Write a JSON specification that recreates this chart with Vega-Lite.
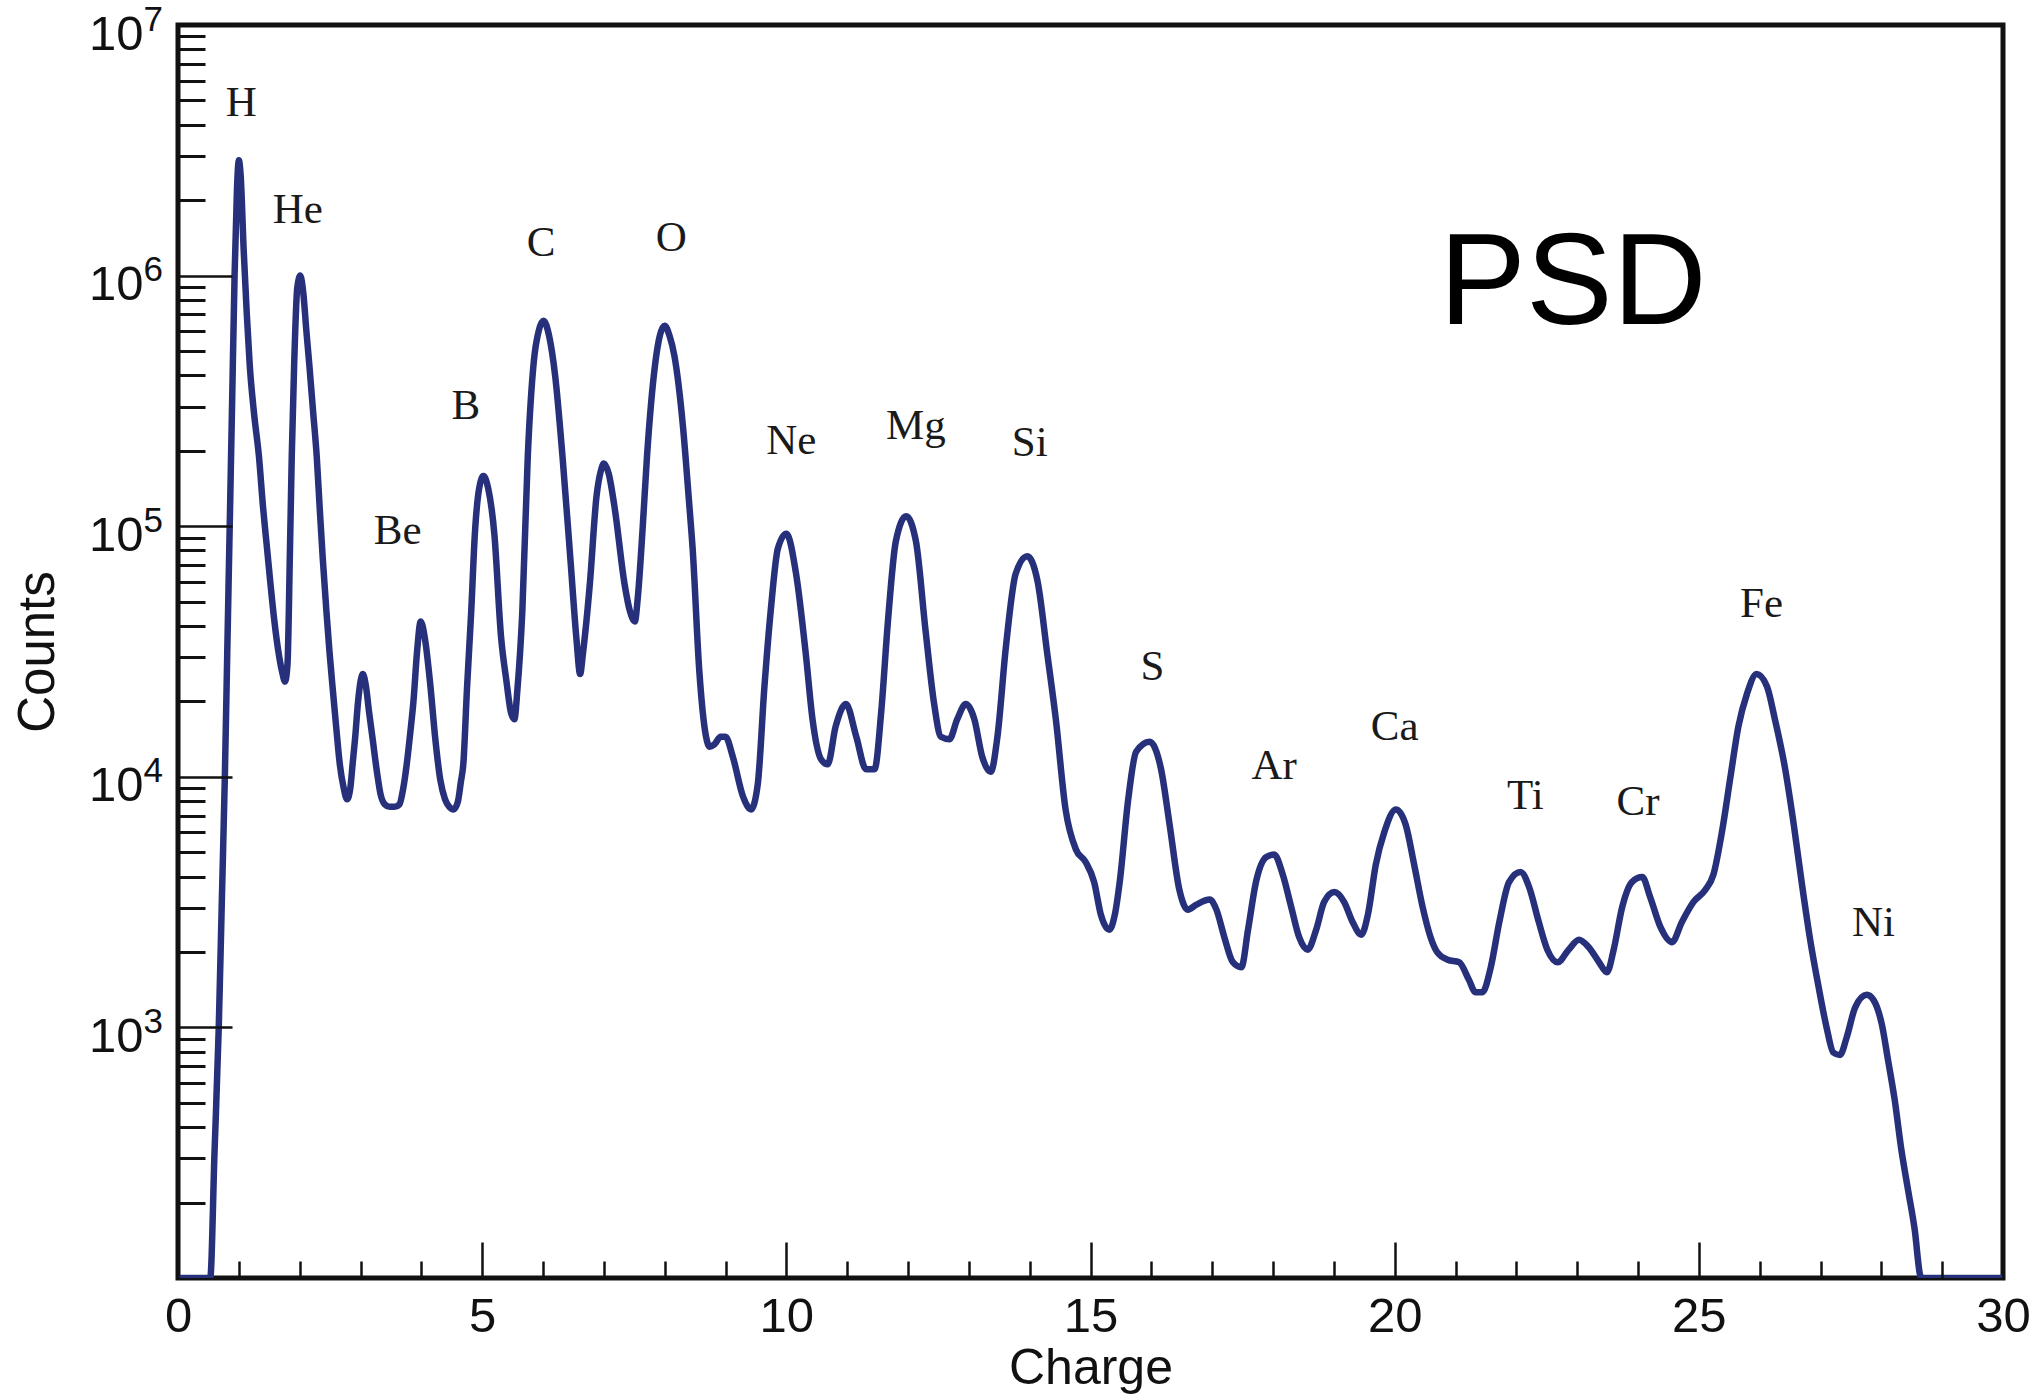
{
  "$schema": "https://vega.github.io/schema/vega-lite/v6.json",
  "width": 1825,
  "height": 1253,
  "autosize": {"type": "none"},
  "padding": {"left": 178, "top": 25, "right": 37, "bottom": 117},
  "background": "white",
  "config": {
    "view": {"stroke": "#111111", "strokeWidth": 5},
    "axis": {
      "domain": false,
      "grid": false,
      "labelFont": "Liberation Sans",
      "titleFont": "Liberation Sans",
      "labelColor": "#111111",
      "titleColor": "#111111",
      "tickColor": "#111111",
      "titleFontWeight": "normal",
      "labelOverlap": false,
      "labelFlush": false
    }
  },
  "datasets": {
    "spectrum": [
      {"charge": 0.0, "count": 100}, {"charge": 0.53, "count": 100}, {"charge": 0.60, "count": 316},
      {"charge": 0.67, "count": 1000}, {"charge": 0.72, "count": 3162}, {"charge": 0.77, "count": 10000},
      {"charge": 0.81, "count": 31620}, {"charge": 0.85, "count": 100000}, {"charge": 0.89, "count": 316200},
      {"charge": 0.93, "count": 1000000}, {"charge": 0.97, "count": 2239000}, {"charge": 1.00, "count": 2884000},
      {"charge": 1.03, "count": 2512000}, {"charge": 1.08, "count": 1259000}, {"charge": 1.13, "count": 707900},
      {"charge": 1.18, "count": 436500}, {"charge": 1.25, "count": 281800}, {"charge": 1.33, "count": 190500},
      {"charge": 1.40, "count": 117500}, {"charge": 1.46, "count": 83180}, {"charge": 1.52, "count": 58880},
      {"charge": 1.58, "count": 42660}, {"charge": 1.65, "count": 31620}, {"charge": 1.71, "count": 26300},
      {"charge": 1.76, "count": 23990}, {"charge": 1.80, "count": 28180}, {"charge": 1.84, "count": 79430},
      {"charge": 1.87, "count": 190500}, {"charge": 1.91, "count": 446700}, {"charge": 1.96, "count": 891300},
      {"charge": 2.01, "count": 1000000}, {"charge": 2.06, "count": 851100}, {"charge": 2.11, "count": 602600},
      {"charge": 2.16, "count": 436500}, {"charge": 2.22, "count": 288400}, {"charge": 2.28, "count": 190500},
      {"charge": 2.33, "count": 117500}, {"charge": 2.38, "count": 74130}, {"charge": 2.44, "count": 45710},
      {"charge": 2.49, "count": 31620}, {"charge": 2.54, "count": 22910}, {"charge": 2.60, "count": 15850},
      {"charge": 2.66, "count": 11220}, {"charge": 2.72, "count": 9120}, {"charge": 2.78, "count": 8128},
      {"charge": 2.83, "count": 8913}, {"charge": 2.87, "count": 11220}, {"charge": 2.91, "count": 14130},
      {"charge": 2.96, "count": 19950}, {"charge": 3.00, "count": 23990}, {"charge": 3.04, "count": 25700},
      {"charge": 3.09, "count": 22910}, {"charge": 3.14, "count": 18200}, {"charge": 3.20, "count": 14130},
      {"charge": 3.27, "count": 10470}, {"charge": 3.33, "count": 8511}, {"charge": 3.40, "count": 7762},
      {"charge": 3.48, "count": 7586}, {"charge": 3.56, "count": 7586}, {"charge": 3.64, "count": 7762},
      {"charge": 3.70, "count": 8913}, {"charge": 3.76, "count": 11220}, {"charge": 3.82, "count": 15140},
      {"charge": 3.87, "count": 19950}, {"charge": 3.93, "count": 31620}, {"charge": 3.99, "count": 41690},
      {"charge": 4.06, "count": 35480}, {"charge": 4.15, "count": 22910}, {"charge": 4.23, "count": 14130},
      {"charge": 4.31, "count": 9772}, {"charge": 4.39, "count": 8128}, {"charge": 4.46, "count": 7586},
      {"charge": 4.53, "count": 7413}, {"charge": 4.60, "count": 7943}, {"charge": 4.65, "count": 9550},
      {"charge": 4.69, "count": 11220}, {"charge": 4.75, "count": 22390}, {"charge": 4.82, "count": 45710},
      {"charge": 4.88, "count": 93330}, {"charge": 4.95, "count": 141300}, {"charge": 5.02, "count": 158500},
      {"charge": 5.10, "count": 141300}, {"charge": 5.20, "count": 93330}, {"charge": 5.31, "count": 36310},
      {"charge": 5.40, "count": 23990}, {"charge": 5.47, "count": 18200}, {"charge": 5.53, "count": 16980},
      {"charge": 5.58, "count": 22390}, {"charge": 5.66, "count": 45710}, {"charge": 5.75, "count": 190500},
      {"charge": 5.85, "count": 457100}, {"charge": 5.93, "count": 602600}, {"charge": 6.01, "count": 660700},
      {"charge": 6.10, "count": 575400}, {"charge": 6.20, "count": 398100}, {"charge": 6.32, "count": 190500},
      {"charge": 6.45, "count": 74130}, {"charge": 6.55, "count": 35480}, {"charge": 6.61, "count": 25700},
      {"charge": 6.66, "count": 31620}, {"charge": 6.77, "count": 58880}, {"charge": 6.88, "count": 131800},
      {"charge": 6.95, "count": 166000}, {"charge": 7.00, "count": 177800}, {"charge": 7.08, "count": 162200},
      {"charge": 7.18, "count": 117500}, {"charge": 7.34, "count": 58880}, {"charge": 7.43, "count": 45710},
      {"charge": 7.51, "count": 41690}, {"charge": 7.56, "count": 52480}, {"charge": 7.64, "count": 100000},
      {"charge": 7.71, "count": 190500}, {"charge": 7.84, "count": 436500}, {"charge": 7.92, "count": 575400},
      {"charge": 8.00, "count": 631000}, {"charge": 8.08, "count": 575400}, {"charge": 8.16, "count": 478600},
      {"charge": 8.30, "count": 251200}, {"charge": 8.40, "count": 125900}, {"charge": 8.46, "count": 81280},
      {"charge": 8.57, "count": 26300}, {"charge": 8.68, "count": 14450}, {"charge": 8.74, "count": 13180},
      {"charge": 8.82, "count": 13490}, {"charge": 8.92, "count": 14450}, {"charge": 9.00, "count": 14450},
      {"charge": 9.12, "count": 12020}, {"charge": 9.29, "count": 8318}, {"charge": 9.42, "count": 7413},
      {"charge": 9.53, "count": 9333}, {"charge": 9.64, "count": 22910}, {"charge": 9.75, "count": 47860},
      {"charge": 9.86, "count": 81280}, {"charge": 10.00, "count": 93330}, {"charge": 10.16, "count": 64570},
      {"charge": 10.32, "count": 30900}, {"charge": 10.43, "count": 16980}, {"charge": 10.57, "count": 11750},
      {"charge": 10.68, "count": 11220}, {"charge": 10.81, "count": 15850}, {"charge": 10.98, "count": 19500},
      {"charge": 11.15, "count": 14450}, {"charge": 11.31, "count": 10720}, {"charge": 11.45, "count": 10720},
      {"charge": 11.56, "count": 18200}, {"charge": 11.67, "count": 41690}, {"charge": 11.80, "count": 87100},
      {"charge": 11.97, "count": 109600}, {"charge": 12.13, "count": 87100}, {"charge": 12.29, "count": 38020},
      {"charge": 12.43, "count": 19500}, {"charge": 12.54, "count": 14450}, {"charge": 12.68, "count": 14130},
      {"charge": 12.81, "count": 16980}, {"charge": 12.95, "count": 19500}, {"charge": 13.09, "count": 16980},
      {"charge": 13.22, "count": 12020}, {"charge": 13.36, "count": 10470}, {"charge": 13.47, "count": 14450},
      {"charge": 13.61, "count": 33110}, {"charge": 13.77, "count": 64570}, {"charge": 13.96, "count": 75860},
      {"charge": 14.13, "count": 60260}, {"charge": 14.29, "count": 30900}, {"charge": 14.43, "count": 16980},
      {"charge": 14.59, "count": 7413}, {"charge": 14.76, "count": 5129}, {"charge": 14.92, "count": 4571},
      {"charge": 15.06, "count": 3802}, {"charge": 15.17, "count": 2818}, {"charge": 15.31, "count": 2455},
      {"charge": 15.40, "count": 2818}, {"charge": 15.48, "count": 3802}, {"charge": 15.62, "count": 8128},
      {"charge": 15.75, "count": 12590}, {"charge": 15.97, "count": 13800}, {"charge": 16.16, "count": 10720},
      {"charge": 16.30, "count": 6457}, {"charge": 16.46, "count": 3548}, {"charge": 16.60, "count": 2951},
      {"charge": 16.74, "count": 3090}, {"charge": 16.96, "count": 3236}, {"charge": 17.07, "count": 2951},
      {"charge": 17.20, "count": 2291}, {"charge": 17.34, "count": 1820}, {"charge": 17.48, "count": 1738},
      {"charge": 17.59, "count": 2455}, {"charge": 17.72, "count": 3802}, {"charge": 17.89, "count": 4786},
      {"charge": 18.02, "count": 4898}, {"charge": 18.16, "count": 4074}, {"charge": 18.30, "count": 3020},
      {"charge": 18.43, "count": 2291}, {"charge": 18.57, "count": 2042}, {"charge": 18.71, "count": 2455},
      {"charge": 18.84, "count": 3162}, {"charge": 19.01, "count": 3467}, {"charge": 19.17, "count": 3162},
      {"charge": 19.31, "count": 2630}, {"charge": 19.45, "count": 2344}, {"charge": 19.56, "count": 2818},
      {"charge": 19.69, "count": 4467}, {"charge": 19.83, "count": 6026}, {"charge": 20.02, "count": 7413},
      {"charge": 20.18, "count": 6457}, {"charge": 20.32, "count": 4467}, {"charge": 20.46, "count": 3020},
      {"charge": 20.59, "count": 2291}, {"charge": 20.70, "count": 1995}, {"charge": 20.87, "count": 1862},
      {"charge": 21.06, "count": 1820}, {"charge": 21.22, "count": 1549}, {"charge": 21.33, "count": 1380},
      {"charge": 21.44, "count": 1380}, {"charge": 21.58, "count": 1738}, {"charge": 21.72, "count": 2630},
      {"charge": 21.88, "count": 3802}, {"charge": 22.07, "count": 4169}, {"charge": 22.21, "count": 3631},
      {"charge": 22.37, "count": 2630}, {"charge": 22.51, "count": 2042}, {"charge": 22.68, "count": 1820},
      {"charge": 22.86, "count": 2042}, {"charge": 23.03, "count": 2239}, {"charge": 23.19, "count": 2089},
      {"charge": 23.36, "count": 1820}, {"charge": 23.49, "count": 1660}, {"charge": 23.60, "count": 2042},
      {"charge": 23.74, "count": 3020}, {"charge": 23.90, "count": 3802}, {"charge": 24.07, "count": 3981},
      {"charge": 24.20, "count": 3311}, {"charge": 24.37, "count": 2512}, {"charge": 24.56, "count": 2188},
      {"charge": 24.72, "count": 2630}, {"charge": 24.91, "count": 3162}, {"charge": 25.11, "count": 3548},
      {"charge": 25.24, "count": 4074}, {"charge": 25.38, "count": 6026}, {"charge": 25.52, "count": 10000},
      {"charge": 25.65, "count": 15850}, {"charge": 25.79, "count": 21380}, {"charge": 25.95, "count": 25700},
      {"charge": 26.12, "count": 22910}, {"charge": 26.25, "count": 16980}, {"charge": 26.42, "count": 10720},
      {"charge": 26.56, "count": 6457}, {"charge": 26.69, "count": 3802}, {"charge": 26.83, "count": 2239},
      {"charge": 26.97, "count": 1445}, {"charge": 27.10, "count": 1000}, {"charge": 27.21, "count": 794},
      {"charge": 27.32, "count": 776}, {"charge": 27.43, "count": 912}, {"charge": 27.57, "count": 1202},
      {"charge": 27.76, "count": 1349}, {"charge": 27.87, "count": 1288}, {"charge": 28.01, "count": 1023},
      {"charge": 28.11, "count": 741}, {"charge": 28.22, "count": 513}, {"charge": 28.33, "count": 324},
      {"charge": 28.44, "count": 224}, {"charge": 28.55, "count": 155}, {"charge": 28.64, "count": 102},
      {"charge": 28.66, "count": 100}, {"charge": 30.0, "count": 100}
    ],
    "elements": [
      {"label": "H", "charge": 1.04, "count": 4900000},
      {"label": "He", "charge": 1.97, "count": 1820000},
      {"label": "Be", "charge": 3.61, "count": 95500},
      {"label": "B", "charge": 4.73, "count": 302000},
      {"label": "C", "charge": 5.97, "count": 1350000},
      {"label": "O", "charge": 8.11, "count": 1410000},
      {"label": "Ne", "charge": 10.08, "count": 219000},
      {"label": "Mg", "charge": 12.13, "count": 251000},
      {"label": "Si", "charge": 14.0, "count": 214000},
      {"label": "S", "charge": 16.02, "count": 27500},
      {"label": "Ar", "charge": 18.02, "count": 11000},
      {"label": "Ca", "charge": 20.0, "count": 15800},
      {"label": "Ti", "charge": 22.15, "count": 8400},
      {"label": "Cr", "charge": 24.0, "count": 7900},
      {"label": "Fe", "charge": 26.03, "count": 49000},
      {"label": "Ni", "charge": 27.87, "count": 2600}
    ],
    "panel": [
      {"label": "PSD", "charge": 22.93, "count": 641000}
    ]
  },
  "layer": [
    {
      "data": {"name": "spectrum"},
      "mark": {"type": "line", "color": "#27307a", "strokeWidth": 6.5, "strokeJoin": "round", "interpolate": "monotone", "clip": true},
      "encoding": {
        "x": {
          "field": "charge", "type": "quantitative",
          "scale": {"domain": [0, 30], "nice": false, "zero": false},
          "axis": {
            "orient": "bottom", "values": [0, 5, 10, 15, 20, 25, 30],
            "tickSize": -36, "tickWidth": 2.5, "labelPadding": 50,
            "labelFontSize": 49, "labelBaseline": "top", "format": "d",
            "title": "Charge", "titleFontSize": 50, "titleX": 912.5, "titleY": 105,
            "titleAlign": "center", "titleBaseline": "alphabetic", "zindex": 1
          }
        },
        "y": {
          "field": "count", "type": "quantitative",
          "scale": {"type": "log", "domain": [100, 10000000], "nice": false},
          "axis": {
            "orient": "left", "values": [1000, 10000, 100000, 1000000, 10000000],
            "tickSize": -54, "tickWidth": 2.5, "labelPadding": 89,
            "labelExpr": "'10'", "labelFontSize": 49, "labelBaseline": "middle", "labelAlign": "right",
            "labelOffset": 9,
            "title": "Counts", "titleFontSize": 51, "titleAngle": -90,
            "titleX": -125, "titleY": 626.5, "titleAlign": "center", "titleBaseline": "alphabetic", "zindex": 1
          }
        }
      }
    },
    {
      "data": {"name": "elements"},
      "mark": {"type": "text", "font": "Liberation Serif", "fontSize": 43, "color": "#1a1a1a", "align": "center", "baseline": "middle"},
      "encoding": {
        "x": {
          "field": "charge", "type": "quantitative",
          "scale": {"domain": [0, 30], "nice": false, "zero": false},
          "axis": {
            "orient": "bottom",
            "values": [1, 2, 3, 4, 6, 7, 8, 9, 11, 12, 13, 14, 16, 17, 18, 19, 21, 22, 23, 24, 26, 27, 28, 29],
            "tickSize": -17, "tickWidth": 2.5, "labels": false, "title": null, "zindex": 1
          }
        },
        "y": {
          "field": "count", "type": "quantitative",
          "scale": {"type": "log", "domain": [100, 10000000], "nice": false},
          "axis": {
            "orient": "left",
            "values": [200, 300, 400, 500, 600, 700, 800, 900,
                       2000, 3000, 4000, 5000, 6000, 7000, 8000, 9000,
                       20000, 30000, 40000, 50000, 60000, 70000, 80000, 90000,
                       200000, 300000, 400000, 500000, 600000, 700000, 800000, 900000,
                       2000000, 3000000, 4000000, 5000000, 6000000, 7000000, 8000000, 9000000],
            "tickSize": -27, "tickWidth": 3, "labels": false, "title": null, "zindex": 1
          }
        },
        "text": {"field": "label", "type": "nominal"}
      }
    },
    {
      "data": {"name": "panel"},
      "mark": {"type": "text", "font": "Liberation Sans", "fontSize": 130, "color": "#000000", "align": "center", "baseline": "alphabetic"},
      "encoding": {
        "x": {
          "field": "charge", "type": "quantitative",
          "scale": {"domain": [0, 30], "nice": false, "zero": false},
          "axis": null
        },
        "y": {
          "field": "count", "type": "quantitative",
          "scale": {"type": "log", "domain": [100, 10000000], "nice": false},
          "axis": {
            "orient": "left", "values": [1000, 10000, 100000, 1000000, 10000000],
            "ticks": false, "labelPadding": 35,
            "labelExpr": "'' + round(log(datum.value) / LN10)",
            "labelFontSize": 35, "labelBaseline": "middle", "labelAlign": "left",
            "labelOffset": -6, "title": null
          }
        },
        "text": {"field": "label", "type": "nominal"}
      }
    }
  ],
  "resolve": {"axis": {"x": "independent", "y": "independent"}}
}
